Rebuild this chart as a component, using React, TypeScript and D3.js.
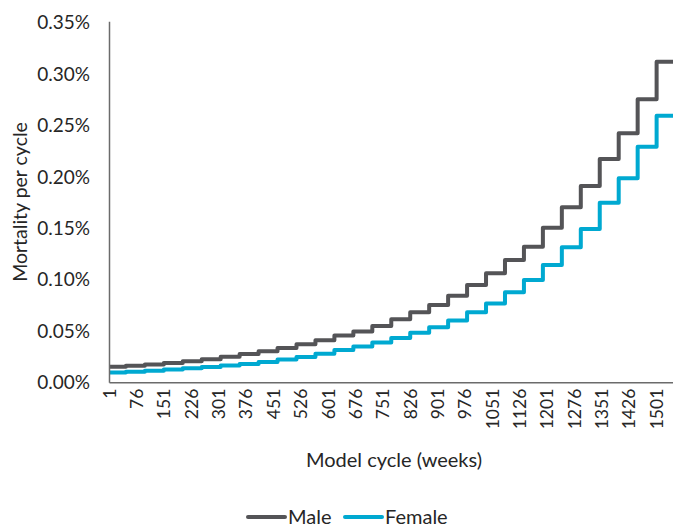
import React from "react";
import * as d3 from "d3";

// Yearly mortality per cycle (%), each step lasts 52 weekly cycles
const male = [
  0.0155, 0.0165, 0.0178, 0.0192, 0.0208, 0.0228, 0.0252, 0.0278, 0.0305, 0.0338,
  0.0375, 0.0412, 0.0458, 0.0498, 0.0551, 0.0617, 0.0684, 0.0755, 0.0846, 0.095,
  0.1064, 0.1193, 0.1322, 0.1507, 0.1705, 0.1912, 0.2175, 0.2425, 0.2755, 0.3121,
];
const female = [
  0.01, 0.0107, 0.0117, 0.0128, 0.014, 0.0153, 0.0167, 0.0182, 0.0202, 0.0225,
  0.025, 0.0282, 0.0318, 0.0352, 0.039, 0.0435, 0.0485, 0.054, 0.0605, 0.0685,
  0.077, 0.088, 0.0998, 0.1144, 0.1316, 0.1494, 0.175, 0.1987, 0.2294, 0.2596,
];
const totalCycles = 1560;
const firstStepCycles = 45;
const cyclesPerStep = 52;
const xTickLabels = [1, 76, 151, 226, 301, 376, 451, 526, 601, 676, 751, 826, 901, 976, 1051, 1126, 1201, 1276, 1351, 1426, 1501];
const yTicks = [0, 0.05, 0.1, 0.15, 0.2, 0.25, 0.3, 0.35];
const seriesNames = ["Male", "Female"];
const seriesColors = ["#545457", "#00A9D1"];

const W = 673;
const H = 529;
const left = 109.5;
const top = 22.7;
const bottom = 382.7;
const cw = 0.3645;
const font = "Lato, 'Open Sans', sans-serif";
const textColor = "#262626";

export default function App() {
  const x = d3.scaleLinear().domain([0, totalCycles]).range([left, left + totalCycles * cw]);
  const y = d3.scaleLinear().domain([0, 0.35]).range([bottom, top]);
  const stepStart = (k: number) => (k === 0 ? 0 : firstStepCycles + cyclesPerStep * (k - 1));
  const toPoints = (vals: number[]) => {
    const pts: [number, number][] = vals.map((v, k) => [stepStart(k), v]);
    pts.push([totalCycles, vals[vals.length - 1]]);
    return pts;
  };
  const line = d3
    .line<[number, number]>()
    .x((d) => x(d[0]))
    .y((d) => y(d[1]))
    .curve(d3.curveStepAfter);
  const series = [male, female];

  return (
    <svg width={W} height={H} style={{ position: "absolute", left: 0, top: 0, background: "#fff" }} fontFamily={font}>
      {/* y tick labels */}
      {yTicks.map((t) => (
        <text key={t} x={90} y={y(t)} dy="0.35em" textAnchor="end" fontSize={19} fill={textColor}>
          {d3.format(".2f")(t) + "%"}
        </text>
      ))}
      {/* x tick labels */}
      {xTickLabels.map((c) => (
        <text
          key={c}
          transform={`translate(${x(c - 0.5)},${bottom + 6}) rotate(-90)`}
          dy="0.35em"
          textAnchor="end"
          fontSize={17.5}
          fill={textColor}
        >
          {c}
        </text>
      ))}
      {/* series */}
      {series.map((vals, i) => (
        <path
          key={i}
          d={line(toPoints(vals)) || ""}
          fill="none"
          stroke={seriesColors[i]}
          strokeWidth={4}
          strokeLinejoin="round"
        />
      ))}
      {/* axes */}
      <line x1={left} x2={left} y1={top - 1} y2={bottom} stroke="#6b6b6b" strokeWidth={1.5} />
      <line x1={left} x2={W + 10} y1={bottom} y2={bottom} stroke="#6b6b6b" strokeWidth={1.5} />
      {/* axis titles */}
      <text x={394} y={460} dy="0.35em" textAnchor="middle" fontSize={20} fill={textColor}>
        Model cycle (weeks)
      </text>
      <text transform={`translate(20,202) rotate(-90)`} dy="0.35em" textAnchor="middle" fontSize={19.5} fill={textColor}>
        Mortality per cycle
      </text>
      {/* legend */}
      {seriesNames.map((n, i) => {
        const lx = i === 0 ? 248 : 345;
        return (
          <g key={n}>
            <line x1={lx} x2={lx + 37} y1={517} y2={517} stroke={seriesColors[i]} strokeWidth={4} strokeLinecap="round" />
            <text x={lx + 40} y={517} dy="0.35em" fontSize={20} fill={textColor}>
              {n}
            </text>
          </g>
        );
      })}
    </svg>
  );
}
